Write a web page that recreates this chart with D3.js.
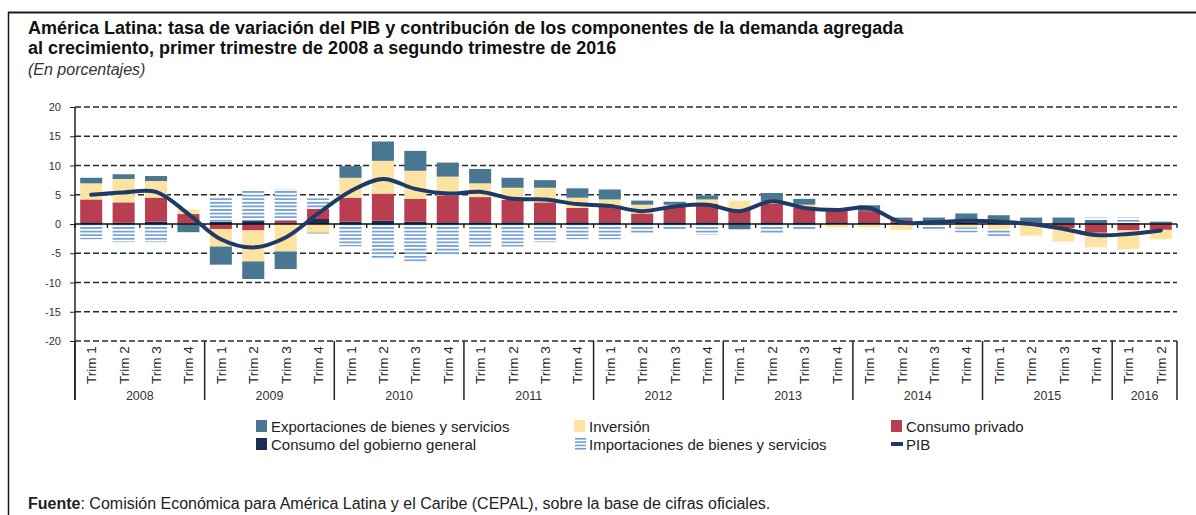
<!DOCTYPE html>
<html><head><meta charset="utf-8">
<script src="https://cdn.jsdelivr.net/npm/d3@7"></script>
<style>
body{margin:0;background:#fff;}
svg text{font-family:"Liberation Sans",Arial,Helvetica,sans-serif;}
</style></head><body>
<svg id="chart" width="1196" height="515"></svg>
<script>
// ---- data ----
const anios = ["2008","2009","2010","2011","2012","2013","2014","2015","2016"];
const trimestresPorAnio = [4,4,4,4,4,4,4,4,2];
const trimestreLabels = ["Trim 1","Trim 2","Trim 3","Trim 4"];
const yTicks = [20,15,10,5,0,-5,-10,-15,-20];

const gobierno   = [0.3,0.2,0.4,0.1, 0.4,0.5,0.1,0.85, 0.4,0.6,0.4,0.3, 0.3,0.3,0.3,0.3, 0.3,0.3,0.3,0.3, 0.3,0.3,0.3,0.3, 0.3,0.2,0.2,0.2, 0.2,0.1,0.1,0.1, 0.1,0.1];
const consumo    = [3.9,3.5,4.1,1.6, -0.85,-1.1,0.45,1.75, 4.1,4.6,3.9,4.6, 4.3,3.8,3.4,2.45, 2.7,1.5,2.7,3.2, 2.2,3.2,2.45,1.9, 1.9,0.5,0.1,0.3, 0.2,-0.2,-0.7,-1.5, -1.1,-1.0];
const inversion  = [2.75,4.0,2.85,0.75, -3.0,-5.3,-4.7,-1.5, 3.4,5.6,4.8,3.2, 2.35,2.1,2.5,1.75, 1.2,1.5,0.3,0.7, 1.5,0.4,0.55,-0.6, -0.6,-1.0,-0.3,-0.6, -0.9,-1.8,-2.3,-2.5, -3.2,-1.6];
const exportaciones = [0.95,0.8,0.85,-1.4, -3.1,-3.0,-3.0,-0.1, 2.0,3.3,3.4,2.4, 2.45,1.7,1.3,1.6, 1.7,0.7,0.5,0.7, -0.9,1.4,1.0,0.2, 1.0,0.4,0.8,1.3, 1.1,1.0,1.0,0.6, 0.1,0.3];
const importaciones = [-2.6,-3.1,-3.1,0, 4.2,5.3,5.4,1.8, -3.8,-6.0,-6.4,-5.3, -3.85,-3.85,-3.1,-2.6, -2.6,-1.7,-1.0,-1.8, 0,-1.7,-1.0,0, 0,0,-0.8,-0.85, -1.5,0,0,0.4, 0.9,0];
const pib = [5.0,5.4,5.5,1.7, -2.6,-4.0,-2.3,1.8, 5.6,7.7,6.0,5.2, 5.5,4.3,4.2,3.4, 3.1,2.2,3.0,3.3, 2.2,3.9,2.75,2.4, 2.75,0.3,0.3,0.55, 0.4,0.0,-0.85,-1.9, -1.7,-1.1];

const serieKeys = ["gob","cons","inv","exp","imp"];
const serieNames = {
  exp:"Exportaciones de bienes y servicios",
  inv:"Inversión",
  cons:"Consumo privado",
  gob:"Consumo del gobierno general",
  imp:"Importaciones de bienes y servicios",
  pib:"PIB"
};
const colors = {gob:"#1b2d58", cons:"#b93f50", inv:"#fde3a1", exp:"#497690", imp:"url(#stripes)", pib:"#1f3a66"};

// ---- build table ----
const periodos = [];
anios.forEach((a,ai)=>{ for(let q=0;q<trimestresPorAnio[ai];q++) periodos.push({anio:a, trim:trimestreLabels[q], key:a+"-"+(q+1)}); });
const rows = periodos.map((p,i)=>({key:p.key, gob:gobierno[i], cons:consumo[i], inv:inversion[i], exp:exportaciones[i], imp:importaciones[i], pib:pib[i]}));

const svg = d3.select("#chart");
const defs = svg.append("defs");
const pat = defs.append("pattern").attr("id","stripes").attr("patternUnits","userSpaceOnUse")
  .attr("width",8).attr("height",3.6).attr("y",223.5);
pat.append("rect").attr("width",8).attr("height",3.6).attr("fill","#ffffff");
pat.append("rect").attr("y",0).attr("width",8).attr("height",1.7).attr("fill","#6f9dd6");

const pLeft = 75, pRight = 1177, pTop = 107, pBottom = 341;
const x = d3.scaleBand().domain(periodos.map(p=>p.key)).range([pLeft,pRight]).paddingInner(0.32).paddingOuter(0.16);
const y = d3.scaleLinear().domain([-20,20]).range([pBottom,pTop]);
const step = x.step();

// frame
svg.append("line").attr("x1",8).attr("x2",1196).attr("y1",12.5).attr("y2",12.5).attr("stroke","#1a1a1a").attr("stroke-width",2);
svg.append("line").attr("x1",8.5).attr("x2",8.5).attr("y1",12).attr("y2",515).attr("stroke","#1a1a1a").attr("stroke-width",1.5);

// titles
svg.append("text").attr("x",28).attr("y",34).attr("font-size",18).attr("font-weight","bold").attr("fill","#111")
  .text("América Latina: tasa de variación del PIB y contribución de los componentes de la demanda agregada");
svg.append("text").attr("x",28).attr("y",54).attr("font-size",18).attr("font-weight","bold").attr("fill","#111")
  .text("al crecimiento, primer trimestre de 2008 a segundo trimestre de 2016");
svg.append("text").attr("x",28).attr("y",75).attr("font-size",16).attr("font-style","italic").attr("fill","#333")
  .text("(En porcentajes)");

// grid
const grid = svg.append("g");
yTicks.filter(t=>t!==0).forEach(t=>{
  grid.append("line").attr("x1",pLeft).attr("x2",pRight).attr("y1",y(t)).attr("y2",y(t))
    .attr("stroke","#2a2a2a").attr("stroke-width",1.4).attr("stroke-dasharray","6,3");
});

// y axis
const yAxis = d3.axisLeft(y).tickValues(yTicks).tickSize(5).tickPadding(9).tickFormat(d=>String(d));
const ya = svg.append("g").attr("transform",`translate(${pLeft},0)`).call(yAxis);
ya.select(".domain").remove();
ya.selectAll(".tick line").attr("stroke","#222");
ya.selectAll(".tick text").attr("font-size",11).attr("fill","#333").style("font-family","Liberation Sans, Arial, sans-serif");
svg.append("line").attr("x1",pLeft).attr("x2",pLeft).attr("y1",pTop).attr("y2",400).attr("stroke","#222").attr("stroke-width",1.5);

// stacked bars
const stack = d3.stack().keys(serieKeys).offset(d3.stackOffsetDiverging);
const series = stack(rows);
const gBars = svg.append("g");
series.forEach(s=>{
  gBars.selectAll(null).data(s).enter().append("rect")
    .attr("x",d=>x(d.data.key)).attr("width",x.bandwidth())
    .attr("y",d=>y(Math.max(d[0],d[1]))).attr("height",d=>Math.abs(y(d[0])-y(d[1])))
    .attr("fill",colors[s.key]);
});

// zero line + quarter ticks
svg.append("line").attr("x1",pLeft).attr("x2",pRight).attr("y1",y(0)).attr("y2",y(0)).attr("stroke","#111").attr("stroke-width",1.5);
const bounds = d3.range(periodos.length+1).map(i=>pLeft+i*step);
svg.append("g").selectAll("line").data(bounds).enter().append("line")
  .attr("x1",d=>d).attr("x2",d=>d).attr("y1",y(0)).attr("y2",y(0)+4).attr("stroke","#111").attr("stroke-width",1.3);

// category axis
const cat = svg.append("g");
let idx=0;
const yearBounds=[0];
trimestresPorAnio.forEach(n=>{idx+=n; yearBounds.push(idx);});
cat.selectAll("line.sep").data(yearBounds).enter().append("line")
  .attr("x1",d=>pLeft+d*step).attr("x2",d=>pLeft+d*step).attr("y1",pBottom).attr("y2",400)
  .attr("stroke","#222").attr("stroke-width",1.5);
cat.selectAll("text.trim").data(periodos).enter().append("text")
  .attr("transform",p=>`translate(${x(p.key)+x.bandwidth()/2+5},384) rotate(-90)`)
  .attr("font-size",13.5).attr("fill","#222").text(p=>p.trim);
cat.selectAll("text.year").data(anios).enter().append("text")
  .attr("x",(a,i)=>pLeft+(yearBounds[i]+yearBounds[i+1])/2*step).attr("y",400)
  .attr("text-anchor","middle").attr("font-size",12.5).attr("fill","#333").text(a=>a);

// PIB line
const line = d3.line().x(d=>x(d.key)+x.bandwidth()/2).y(d=>y(d.pib)).curve(d3.curveCatmullRom.alpha(0.5));
svg.append("path").datum(rows).attr("d",line).attr("fill","none").attr("stroke",colors.pib).attr("stroke-width",4).attr("stroke-linecap","round");

// legend
const legendItems = [
  {k:"exp", x:256, y:426},{k:"inv", x:574, y:426},{k:"cons", x:891, y:426},
  {k:"gob", x:256, y:444},{k:"imp", x:574, y:444},{k:"pib", x:891, y:444}
];
const lg = svg.append("g");
legendItems.forEach(it=>{
  if(it.k==="pib"){
    lg.append("rect").attr("x",it.x).attr("y",it.y-2).attr("width",12).attr("height",4).attr("fill",colors.pib);
  } else if(it.k==="imp"){
    [0,1,2,3].forEach(j=>lg.append("rect").attr("x",it.x+1).attr("y",it.y-6+j*3.3).attr("width",11).attr("height",1.6).attr("fill","#6f9dd6"));
  } else {
    lg.append("rect").attr("x",it.x).attr("y",it.y-6).attr("width",11).attr("height",12).attr("fill",colors[it.k]);
  }
  lg.append("text").attr("x",it.x+15).attr("y",it.y+5.5).attr("font-size",15).attr("fill","#222").text(serieNames[it.k]);
});

// footer
const ft = svg.append("text").attr("x",28).attr("y",509).attr("font-size",16).attr("fill","#222");
ft.append("tspan").attr("font-weight","bold").text("Fuente");
ft.append("tspan").text(": Comisión Económica para América Latina y el Caribe (CEPAL), sobre la base de cifras oficiales.");
</script>
</body></html>
